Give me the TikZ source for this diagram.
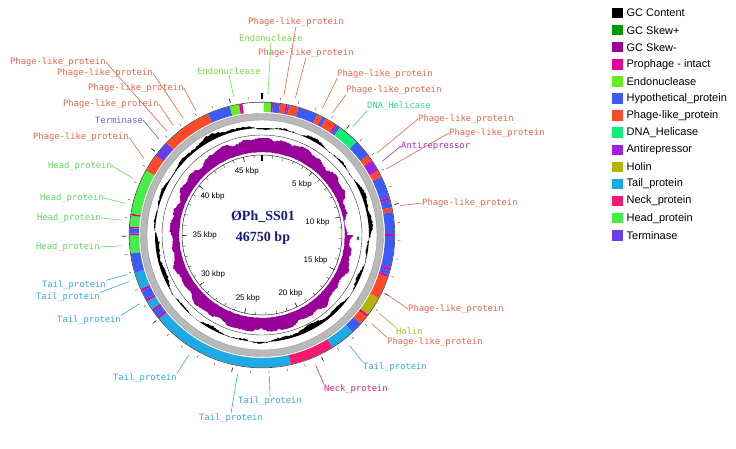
\documentclass[tikz,border=0pt]{standalone}
\usepackage{fontspec}
\setmainfont{Liberation Sans}
\newfontfamily\monofam{DejaVu Sans Mono}
\newfontfamily\serifam{Liberation Serif}
\usepackage{xcolor}
\usepackage{tikz}
\usetikzlibrary{positioning}
% ring colours
\definecolor{skewp}{HTML}{009900}
\definecolor{skewm}{HTML}{990099}
\definecolor{proph}{HTML}{E6009A}
\definecolor{endo}{HTML}{66EE22}
\definecolor{hypo}{HTML}{3C5AF5}
\definecolor{phage}{HTML}{FF4A2A}
\definecolor{heli}{HTML}{11EE77}
\definecolor{anti}{HTML}{A020E0}
\definecolor{holin}{HTML}{B4B40A}
\definecolor{tail}{HTML}{1EAAE6}
\definecolor{neck}{HTML}{F51A6E}
\definecolor{headp}{HTML}{44F044}
\definecolor{term}{HTML}{6A3CF0}
% label colours
\definecolor{tphage}{HTML}{E8654A}
\definecolor{tendo}{HTML}{77DD44}
\definecolor{theli}{HTML}{33DD88}
\definecolor{tanti}{HTML}{9933CC}
\definecolor{tholin}{HTML}{AAB520}
\definecolor{ttail}{HTML}{33A9DC}
\definecolor{tneck}{HTML}{DD2A7A}
\definecolor{thead}{HTML}{5ADC5A}
\definecolor{tterm}{HTML}{6A5AE0}
\definecolor{ttlblue}{HTML}{1A1A80}
\tikzset{
  lbl/.style={font=\monofam\fontsize{8.8}{10}\selectfont, inner sep=0pt, anchor=west},
  lead/.style={line width=0.6pt},
  legbox/.style={rectangle, minimum size=10.5pt, inner sep=0pt},
  legtxt/.style={font=\fontsize{11}{13}\selectfont, anchor=west, inner sep=0pt},
  scl/.style={font=\fontsize{8}{9}\selectfont, inner sep=0.5pt},
  ttl/.style={font=\serifam\bfseries\fontsize{14}{16}\selectfont, text=ttlblue},
}

\begin{document}
\begin{tikzpicture}[x=1pt,y=1pt]
\useasboundingbox (0,0) rectangle (736,448);
\coordinate (ctr) at (262,213);
% ---- genome map ----
\begin{scope}[shift={(ctr)}]
% feature ring (angles clockwise from top)
\foreach \a/\b/\c in {0.8/4.0/endo, 4.0/4.8/proph, 4.8/7.8/hypo, 7.8/10.4/phage,
  10.4/11.2/proph, 11.2/12.0/hypo, 12.0/16.0/phage, 16.0/24.6/hypo, 24.6/27.0/phage,
  27.0/28.7/hypo, 28.7/33.5/phage, 33.5/34.3/proph, 34.3/36.0/hypo, 36.0/45.5/heli,
  45.5/53.0/hypo, 53.0/56.0/phage, 56.0/61.0/anti, 61.0/64.0/phage, 64.0/73.5/hypo,
  73.5/74.5/proph, 74.5/78.0/hypo, 78.0/80.0/phage, 80.0/89.5/hypo, 89.5/90.5/proph,
  90.5/104.5/hypo, 104.5/105.5/proph, 105.5/107.5/hypo, 107.5/108.5/proph,
  108.5/118.5/phage, 118.5/127.0/holin, 127.0/128.0/proph, 128.0/132.0/phage,
  132.0/137.0/hypo, 137.0/148.0/tail, 148.0/167.5/neck, 167.5/231.0/tail,
  231.0/232.0/proph, 232.0/235.0/hypo, 235.0/236.0/proph, 236.0/240.0/tail,
  240.0/241.0/proph, 241.0/245.0/hypo, 245.0/246.0/proph, 246.0/253.5/tail,
  253.5/262.0/hypo, 262.0/270.0/headp, 270.0/270.7/proph, 270.7/273.0/hypo,
  273.0/273.7/proph, 273.7/278.5/headp, 278.5/279.3/proph, 279.3/299.0/headp,
  299.0/307.0/phage, 307.0/314.0/term, 314.0/336.0/phage, 336.0/346.0/hypo,
  346.0/350.0/endo, 350.0/351.5/proph}
  \fill[\c] ({90-\a}:132.5) arc[start angle={90-\a}, end angle={90-\b}, radius=132.5]
    -- ({90-\b}:123) arc[start angle={90-\b}, end angle={90-\a}, radius=123] -- cycle;
\draw[black!75, line width=0.6pt] (0,0) circle[radius=132.8];
% backbone
\fill[gray!55, even odd rule] (0,0) circle[radius=121.5] (0,0) circle[radius=115];
\draw[gray!80, line width=0.4pt] (0,0) circle[radius=121.5];
\draw[gray!80, line width=0.4pt] (0,0) circle[radius=115];
% GC content
\pgfmathsetseed{7}
\fill[black] plot[domain=0:360, samples=541]
  (\x:{107+2.4*sin(\x)+1.8*sin(3*\x+50)+1.5*sin(7*\x)+1.2*sin(19*\x+10)+1.6*rnd-0.8})
  -- plot[domain=360:0, samples=181] (\x:107) -- cycle;
\draw[black!80, line width=0.4pt] (0,0) circle[radius=100];
% GC skew
\fill[skewm] plot[domain=0:360, samples=361] (\x:{82.5+0.6*rnd})
  -- plot[domain=360:0, samples=451]
  (\x:{min(97,83+max(0.5,9.5+3*sin(2*\x-80)-8*exp(-((\x-6)/11)^2)+1.5*sin(13*\x)+1.2*sin(29*\x+30)+2*rnd))})
  -- cycle;
\fill[skewp] (-1:95) arc[start angle=-1, end angle=-3, radius=95]
  -- (-3:97) arc[start angle=-3, end angle=-1, radius=97] -- cycle;
% scale circle
\draw[black!85, line width=0.5pt] (0,0) circle[radius=80];
\foreach \k in {1,...,46}
  \draw[black!80, line width=0.4pt] ({90-\k*7.70053}:80) -- ({90-\k*7.70053}:77);
\foreach \k in {5,10,...,45}{
  \pgfmathsetmacro\an{90-\k*7.70053}
  \draw[black!85, line width=0.5pt] (\an:80) -- (\an:75);
  \node[scl, anchor=\an] (s\k) at (\an:70) {\k~kbp};
}
\draw[black, line width=1.4pt] (90:80) -- (90:74);
% outer ticks
\foreach \k in {1,...,46}
  \draw[black!65, line width=0.5pt] ({90-\k*7.70053}:136) -- ({90-\k*7.70053}:138.5);
\foreach \k in {5,10,...,45}
  \draw[black!75, line width=0.7pt] ({90-\k*7.70053}:136) -- ({90-\k*7.70053}:140.5);
\draw[black, line width=1.8pt] (90:135.5) -- (90:142);
% leader ends on the ring
\foreach \n/\a in {l1/-42.5, l2/-34, l3/-28, l4/-39, term/-47, l6/-57, endol/-11.6,
  t1/8.9, t2/2.4, t3/13.7, t4/25.5, t5/30, t6/40, t7/54.5, t8/62, t9/58.5, t10/78,
  t11/115.6, t12/123.8, t13/129, t14/141.6, t15/157.6, t16/177, t17/190, t18/211.4,
  t19/253.7, t20/250.7, t21/240.7, h1/-66.3, h2/-77, h3/-84, h4/-94.4}
  \coordinate (e\n) at ({90-\a}:141);
\end{scope}
% ---- title ----
\node[ttl] (name) at (263,231) {ØPh\_SS01};
\node[ttl] (len)  at (263,210) {46750 bp};
% ---- gene labels ----
\node[lbl, text=tphage] (l1)    at (10,386)  {Phage-like\_protein};
\node[lbl, text=tphage] (l2)    at (57,375)  {Phage-like\_protein};
\node[lbl, text=tphage] (l3)    at (88,360)  {Phage-like\_protein};
\node[lbl, text=tphage] (l4)    at (63,344)  {Phage-like\_protein};
\node[lbl, text=tterm]  (term)  at (95,328)  {Terminase};
\node[lbl, text=tphage] (l6)    at (33,311)  {Phage-like\_protein};
\node[lbl, text=tendo]  (endol) at (197,377) {Endonuclease};
\node[lbl, text=tphage] (t1)    at (248,426) {Phage-like\_protein};
\node[lbl, text=tendo]  (t2)    at (239,410) {Endonuclease};
\node[lbl, text=tphage] (t3)    at (258,395) {Phage-like\_protein};
\node[lbl, text=tphage] (t4)    at (337,374) {Phage-like\_protein};
\node[lbl, text=tphage] (t5)    at (346,358) {Phage-like\_protein};
\node[lbl, text=theli]  (t6)    at (367,342) {DNA\_Helicase};
\node[lbl, text=tphage] (t7)    at (418,329) {Phage-like\_protein};
\node[lbl, text=tphage] (t8)    at (449,315) {Phage-like\_protein};
\node[lbl, text=tanti]  (t9)    at (401,302) {Antirepressor};
\node[lbl, text=tphage] (t10)   at (422,245) {Phage-like\_protein};
\node[lbl, text=tphage] (t11)   at (408,139) {Phage-like\_protein};
\node[lbl, text=tholin] (t12)   at (396,117) {Holin};
\node[lbl, text=tphage] (t13)   at (387,106) {Phage-like\_protein};
\node[lbl, text=ttail]  (t14)   at (363,81)  {Tail\_protein};
\node[lbl, text=tneck]  (t15)   at (324,59)  {Neck\_protein};
\node[lbl, text=ttail]  (t16)   at (238,47)  {Tail\_protein};
\node[lbl, text=ttail]  (t17)   at (199,30)  {Tail\_protein};
\node[lbl, text=ttail]  (t18)   at (113,70)  {Tail\_protein};
\node[lbl, text=ttail]  (t19)   at (42,163)  {Tail\_protein};
\node[lbl, text=ttail]  (t20)   at (36,151)  {Tail\_protein};
\node[lbl, text=ttail]  (t21)   at (57,128)  {Tail\_protein};
\node[lbl, text=thead]  (h1)    at (48,282)  {Head\_protein};
\node[lbl, text=thead]  (h2)    at (40,250)  {Head\_protein};
\node[lbl, text=thead]  (h3)    at (37,230)  {Head\_protein};
\node[lbl, text=thead]  (h4)    at (36,201)  {Head\_protein};
% ---- leaders ----
\draw[lead, tphage] (l1.east) -- (el1);
\draw[lead, tphage] (l2.east) -- (el2);
\draw[lead, tphage] (l3.east) -- (el3);
\draw[lead, tphage] (l4.east) -- (el4);
\draw[lead, tterm]  (term.east) -- (eterm);
\draw[lead, tphage] (l6.east) -- (el6);
\draw[lead, tendo]  (endol.south) -- (eendol);
\draw[lead, tphage] (t1.south) -- (et1);
\draw[lead, tendo]  (t2.south) -- (et2);
\draw[lead, tphage] (t3.south) -- (et3);
\draw[lead, tphage] (t4.south west) -- (et4);
\draw[lead, tphage] (t5.south west) -- (et5);
\draw[lead, theli]  (t6.south west) -- (et6);
\draw[lead, tphage] (t7.west) -- (et7);
\draw[lead, tphage] (t8.west) -- (et8);
\draw[lead, tanti]  (t9.west) -- (et9);
\draw[lead, tphage] (t10.west) -- (et10);
\draw[lead, tphage] (t11.west) -- (et11);
\draw[lead, tholin] (t12.north west) -- (et12);
\draw[lead, tphage] (t13.north west) -- (et13);
\draw[lead, ttail]  (t14.north west) -- (et14);
\draw[lead, tneck]  (t15.north west) -- (et15);
\draw[lead, ttail]  (t16.north) -- (et16);
\draw[lead, ttail]  (t17.north) -- (et17);
\draw[lead, ttail]  (t18.north east) -- (et18);
\draw[lead, ttail]  (t19.north east) -- (et19);
\draw[lead, ttail]  (t20.north east) -- (et20);
\draw[lead, ttail]  (t21.north east) -- (et21);
\draw[lead, thead]  (h1.east) -- (eh1);
\draw[lead, thead]  (h2.east) -- (eh2);
\draw[lead, thead]  (h3.east) -- (eh3);
\draw[lead, thead]  (h4.east) -- (eh4);
% ---- legend ----
\foreach \i/\c/\t in {0/black/GC Content, 1/skewp/GC Skew+, 2/skewm/GC Skew-,
  3/proph/Prophage - intact, 4/endo/Endonuclease, 5/hypo/Hypothetical\_protein,
  6/phage/Phage-like\_protein, 7/heli/DNA\_Helicase, 8/anti/Antirepressor,
  9/holin/Holin, 10/tail/Tail\_protein, 11/neck/Neck\_protein, 12/headp/Head\_protein,
  13/term/Terminase}{
  \node[legbox, fill=\c] (lb\i) at (617.5,{435-17.1*\i}) {};
  \node[legtxt, right=3.5pt of lb\i] (lt\i) {\t};
}
\end{tikzpicture}
\end{document}
